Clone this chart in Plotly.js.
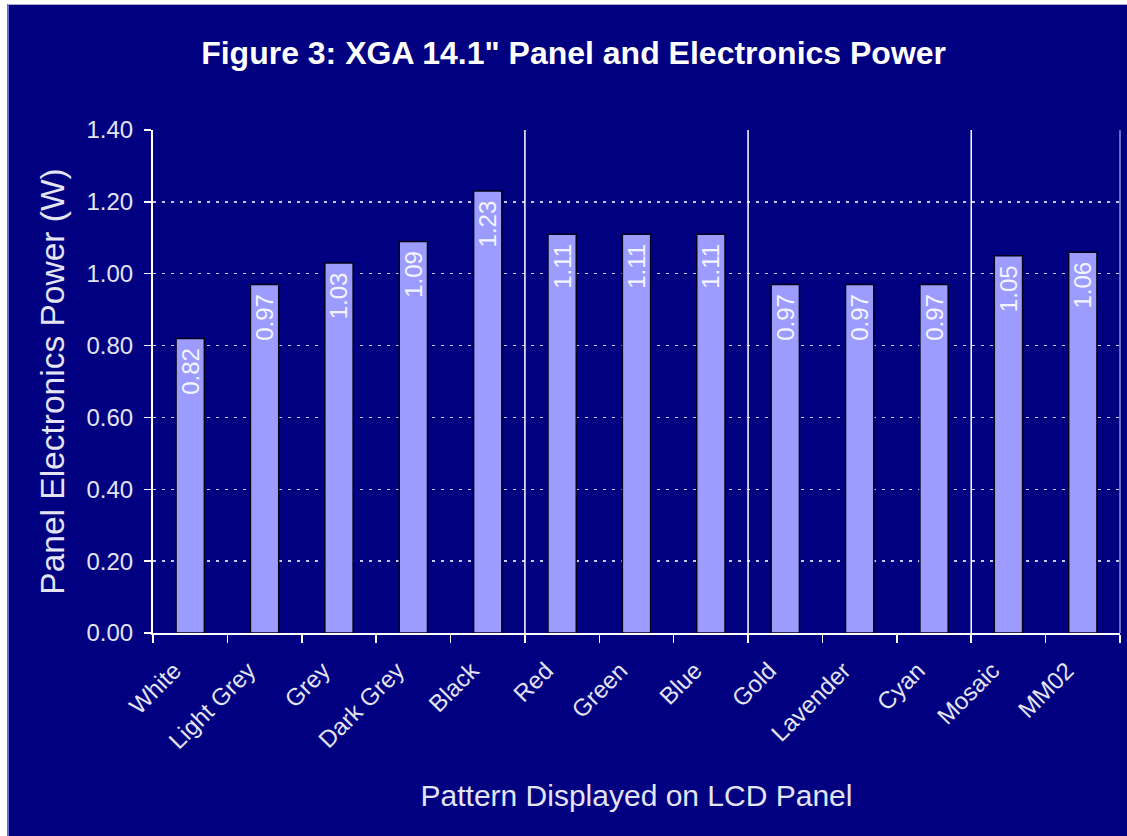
<!DOCTYPE html>
<html>
<head>
<meta charset="utf-8">
<script src="https://cdn.plot.ly/plotly-3.0.1.min.js"></script>
<style>
  html, body { margin: 0; padding: 0; background: #ffffff; width: 1127px; height: 836px; overflow: hidden; }
  #wrap { position: absolute; left: 7px; top: 4px; border-left: 2px solid #6a6ad0; border-top: 1px solid #a8a8c8; }
  #chart { width: 1118px; height: 831px; }
</style>
</head>
<body>
<div id="wrap"><div id="chart"></div></div>
<script>
// ---- data ----
const categories = ['White', 'Light Grey', 'Grey', 'Dark Grey', 'Black', 'Red', 'Green', 'Blue', 'Gold', 'Lavender', 'Cyan', 'Mosaic', 'MM02'];
const power = [0.82, 0.97, 1.03, 1.09, 1.23, 1.11, 1.11, 1.11, 0.97, 0.97, 0.97, 1.05, 1.06];
const groupSizes = [5, 3, 3, 2];   // grey scale | primaries | mixed | images
const titleText = 'Figure 3: XGA 14.1" Panel and Electronics Power';
const yTitle = 'Panel Electronics Power (W)';
const xTitle = 'Pattern Displayed on LCD Panel';

const FONT = 'Arial, "Liberation Sans", sans-serif';
const NAVY = '#000080';
const TXT = '#e4e4f4';

// group separators at category boundaries
const shapes = [];
let acc = 0;
for (let g = 0; g < groupSizes.length - 1; g++) {
  acc += groupSizes[g];
  shapes.push({type: 'line', xref: 'x', yref: 'paper', x0: acc - 0.5, x1: acc - 0.5, y0: 0, y1: 1,
               line: {color: '#ffffff', width: 1.5}});
}
shapes.push({type: 'line', xref: 'paper', yref: 'paper', x0: 1, x1: 1, y0: 0, y1: 1,
             line: {color: '#8a8ae0', width: 1.5}});

const trace = {
  type: 'bar',
  x: categories,
  y: power,
  marker: {color: '#9c9cff', line: {color: '#00001a', width: 1.5}},
  texttemplate: '%{y:.2f}\u00a0',
  textposition: 'inside',
  insidetextanchor: 'end',
  textangle: -90,
  constraintext: 'none',
  textfont: {family: FONT, size: 24, color: '#f4f4ff'},
  hoverinfo: 'x+y'
};

const layout = {
  width: 1118, height: 831,
  paper_bgcolor: NAVY,
  plot_bgcolor: NAVY,
  margin: {l: 144, r: 7, t: 125, b: 203},
  bargap: 0.62,
  showlegend: false,
  title: {text: '<b>' + titleText + '</b>', font: {family: FONT, size: 32, color: '#ffffff'},
          x: 0.505, xanchor: 'center', y: 0.943, yanchor: 'middle'},
  xaxis: {
    type: 'category',
    tickson: 'boundaries',
    ticks: 'outside', ticklen: 8, tickcolor: '#ffffff', tickwidth: 1.5,
    showline: true, linecolor: '#ffffff', linewidth: 2,
    tickangle: -45,
    ticklabelstandoff: 12,
    ticklabelshift: -16,
    tickfont: {family: FONT, size: 24, color: TXT},
    showgrid: false,
    title: {text: xTitle, font: {family: FONT, size: 30, color: TXT}, standoff: 32},
    fixedrange: true
  },
  yaxis: {
    range: [0, 1.4], dtick: 0.2, tickformat: '.2f',
    ticks: 'outside', ticklen: 7, tickcolor: '#ffffff', tickwidth: 1.5,
    showline: true, linecolor: '#ffffff', linewidth: 2,
    showgrid: true, gridcolor: '#c8c8f0', gridwidth: 1.5, griddash: '3px,6px',
    zeroline: false,
    tickfont: {family: FONT, size: 24, color: TXT},
    ticklabelstandoff: 6,
    title: {text: yTitle, font: {family: FONT, size: 33.5, color: TXT}, standoff: 12},
    fixedrange: true
  },
  shapes: shapes
};

Plotly.newPlot('chart', [trace], layout, {displayModeBar: false, staticPlot: true});
</script>
</body>
</html>
